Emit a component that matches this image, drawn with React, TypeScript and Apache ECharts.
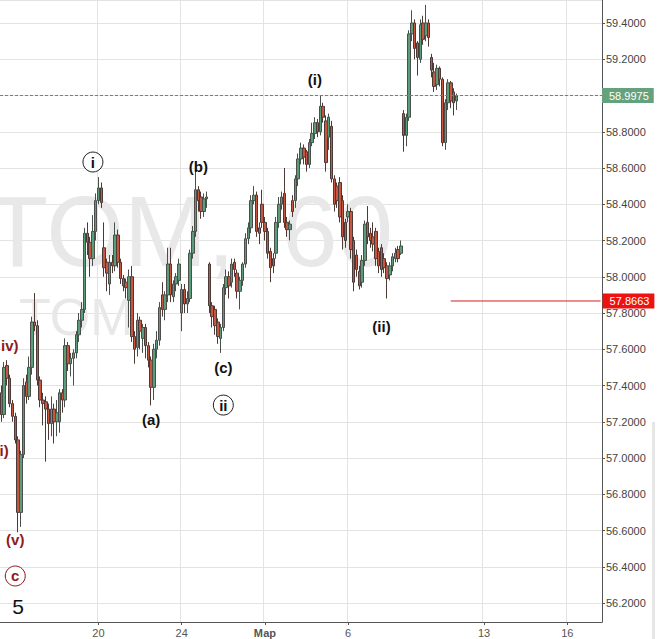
import React, { useEffect, useRef } from 'react';
import * as echarts from 'echarts';

// ---- slots / axis ----
const SLOT_COUNT = 217;
const tickSlots = [35, 65, 95, 125, 174, 204];
const tickLabels = ['20', '24', 'Мар', '6', '13', '16'];
const tickBold = [false, false, true, false, false, false];

// ---- hourly OHLC ----
const opens = [
  57.36, 57.24, 57.51, 57.44, 57.30, 57.23, 57.10, 56.70, 57.02, 57.42,
  57.34, 57.50, 57.75, 57.73, 57.43, 57.32, 57.31, 57.27, 57.19, 57.27,
  57.20, 57.20, 57.36, 57.32, 57.62, 57.52, 57.55, 57.58, 57.68, 57.76,
  57.82, 58.24, 58.19, 58.10, 58.25, 58.42, 58.49, 58.16, 58.08, 57.96,
  58.08, 58.06, 58.23, 58.08, 57.99, 57.97, 57.87, 58.00, 57.67, 57.61,
  57.76, 57.66, 57.72, 57.62, 57.54, 57.39, 57.60, 57.65, 57.90, 57.82,
  57.90, 58.07, 57.89, 57.96, 57.98, 57.80, 57.93, 57.85, 57.88, 58.13,
  58.25, 58.48, 58.44, 58.36, 58.43, 58.07, 57.84, 57.82, 57.75, 57.66,
  57.72, 57.94, 58.00, 57.97, 58.08, 58.02, 57.92, 57.98, 58.07, 58.21,
  58.27, 58.42, 58.45, 58.27, 58.40, 58.30, 58.25, 58.14, 58.10, 58.13,
  58.30, 58.40, 58.46, 58.30, 58.26, 58.42, 58.42, 58.54, 58.65, 58.71,
  58.69, 58.62, 58.74, 58.79, 58.85, 58.80, 58.94, 58.86, 58.77, 58.83,
  58.54, 58.50, 58.52, 58.42, 58.30, 58.33, 58.36, 58.20, 58.12, 58.03,
  57.97, 58.09, 58.30, 58.24, 58.22, 58.25, 58.14, 58.16, 58.10, 58.06,
  58.01, 58.06, 58.10, 58.15, 58.13, 58.90, 58.78, 58.88, 59.34, 59.40,
  59.29, 59.20, 59.40, 59.33, 59.40, 59.21, 59.13, 59.06, 59.15, 59.09,
  58.74, 58.96, 59.07, 59.02, 58.97,
];
const closes = [
  57.24, 57.50, 57.44, 57.30, 57.23, 57.10, 56.70, 57.02, 57.40, 57.34,
  57.50, 57.75, 57.73, 57.43, 57.32, 57.30, 57.27, 57.19, 57.27, 57.20,
  57.25, 57.36, 57.32, 57.62, 57.52, 57.55, 57.58, 57.68, 57.76, 57.82,
  58.24, 58.19, 58.10, 58.25, 58.42, 58.49, 58.41, 58.05, 58.02, 58.08,
  58.06, 58.23, 58.08, 57.99, 57.95, 57.94, 58.00, 57.67, 57.60, 57.76,
  57.70, 57.72, 57.62, 57.54, 57.39, 57.60, 57.65, 57.83, 57.82, 57.90,
  58.07, 57.90, 57.96, 58.00, 58.07, 57.93, 57.85, 57.88, 58.13, 58.25,
  58.48, 58.42, 58.36, 58.43, 58.44, 57.84, 57.78, 57.73, 57.67, 57.72,
  57.94, 58.00, 57.95, 58.07, 58.04, 57.92, 57.98, 58.07, 58.21, 58.27,
  58.42, 58.45, 58.25, 58.24, 58.30, 58.25, 58.13, 58.05, 58.06, 58.30,
  58.40, 58.44, 58.30, 58.26, 58.29, 58.36, 58.54, 58.65, 58.71, 58.66,
  58.62, 58.74, 58.79, 58.85, 58.80, 58.94, 58.88, 58.63, 58.88, 58.54,
  58.40, 58.42, 58.33, 58.22, 58.20, 58.36, 58.15, 57.97, 58.04, 57.95,
  58.09, 58.29, 58.22, 58.20, 58.18, 58.10, 58.06, 58.04, 58.05, 57.99,
  58.06, 58.11, 58.13, 58.10, 58.17, 58.78, 58.88, 59.34, 59.40, 59.26,
  59.21, 59.39, 59.31, 59.40, 59.32, 59.14, 59.05, 59.15, 59.09, 58.74,
  58.96, 59.07, 58.97, 58.96, 58.9975,
];
const lows = [
  57.20, 57.22, 57.40, 57.28, 57.20, 57.08, 56.59, 56.62, 57.00, 57.30,
  57.32, 57.46, 57.70, 57.40, 57.28, 57.18, 56.98, 57.10, 57.12, 57.08,
  57.12, 57.14, 57.25, 57.28, 57.48, 57.45, 57.40, 57.55, 57.64, 57.72,
  57.80, 58.12, 58.00, 58.06, 58.20, 58.40, 58.38, 58.00, 57.92, 57.90,
  58.02, 58.03, 58.05, 57.96, 57.92, 57.88, 57.72, 57.64, 57.52, 57.56,
  57.60, 57.58, 57.55, 57.50, 57.29, 57.32, 57.55, 57.62, 57.78, 57.76,
  57.86, 57.86, 57.86, 57.92, 57.95, 57.70, 57.80, 57.80, 57.86, 58.10,
  58.22, 58.36, 58.32, 58.33, 58.38, 57.80, 57.72, 57.68, 57.63, 57.58,
  57.70, 57.90, 57.88, 57.94, 58.00, 57.88, 57.82, 57.95, 58.05, 58.18,
  58.24, 58.40, 58.22, 58.18, 58.27, 58.20, 58.10, 57.97, 58.02, 58.10,
  58.27, 58.37, 58.27, 58.22, 58.20, 58.33, 58.38, 58.50, 58.62, 58.62,
  58.58, 58.60, 58.72, 58.76, 58.77, 58.78, 58.85, 58.58, 58.70, 58.52,
  58.36, 58.38, 58.30, 58.15, 58.16, 58.30, 58.10, 57.92, 58.00, 57.93,
  57.94, 58.06, 58.18, 58.16, 58.14, 58.06, 58.02, 58.00, 58.02, 57.88,
  57.98, 58.03, 58.08, 58.08, 58.12, 58.69, 58.72, 58.86, 59.30, 59.20,
  59.11, 59.18, 59.28, 59.30, 59.27, 59.10, 59.02, 59.03, 59.05, 58.72,
  58.70, 58.92, 58.93, 58.89, 58.92,
];
const highs = [
  57.40, 57.53, 57.54, 57.46, 57.32, 57.25, 57.12, 57.04, 57.44, 57.46,
  57.56, 57.78, 57.91, 57.76, 57.45, 57.36, 57.34, 57.30, 57.34, 57.30,
  57.32, 57.38, 57.38, 57.66, 57.64, 57.58, 57.60, 57.70, 57.80, 57.86,
  58.27, 58.30, 58.22, 58.34, 58.46, 58.55, 58.52, 58.30, 58.10, 58.12,
  58.12, 58.30, 58.26, 58.10, 58.01, 57.99, 58.04, 58.06, 57.70, 57.80,
  57.78, 57.74, 57.74, 57.64, 57.56, 57.63, 57.70, 57.86, 57.97, 57.92,
  58.16, 58.16, 57.98, 58.02, 58.10, 57.96, 57.96, 57.92, 58.15, 58.28,
  58.61, 58.50, 58.47, 58.46, 58.47, 58.08, 57.86, 57.84, 57.77, 57.74,
  57.96, 58.04, 58.03, 58.10, 58.10, 58.04, 58.00, 58.08, 58.24, 58.30,
  58.45, 58.50, 58.47, 58.30, 58.48, 58.33, 58.27, 58.16, 58.13, 58.33,
  58.44, 58.47, 58.60, 58.33, 58.31, 58.45, 58.56, 58.68, 58.74, 58.73,
  58.70, 58.76, 58.85, 58.88, 58.87, 59.00, 58.96, 58.89, 58.90, 58.86,
  58.56, 58.52, 58.55, 58.45, 58.32, 58.40, 58.38, 58.22, 58.15, 58.06,
  58.12, 58.31, 58.39, 58.27, 58.30, 58.27, 58.16, 58.18, 58.13, 58.08,
  58.08, 58.13, 58.16, 58.17, 58.20, 58.92, 58.90, 59.36, 59.47, 59.42,
  59.30, 59.42, 59.44, 59.50, 59.42, 59.23, 59.18, 59.17, 59.16, 59.10,
  58.98, 59.09, 59.08, 59.04, 59.01,
];

// ---- price levels ----
const lastPrice = 58.9975;
const levelPrice = 57.8663;
const levelStartSlot = 161.7;
// axis label hidden behind the last-price tag in the reference
const hiddenAxisLabels = [59.0];

// ---- wave annotations (anchored in slot / price) ----
const annTexts = ['iv)', 'i)', '(v)', 'c', '5', 'i', '(b)', '(a)', '(c)', 'ii', '(i)', '(ii)'];
const annSlots = [2.74, 1.12, 5.27, 5.09, 5.99, 33.4, 70.5, 54.3, 79.9, 79.9, 113.1, 136.5];
const annPrices = [57.618, 57.039, 56.548, 56.349, 56.183, 58.633, 58.606, 57.21, 57.502, 57.292, 59.086, 57.723];
const annCircled = [false, false, false, true, false, true, false, false, false, true, false, false];
const annRed = [true, true, true, true, false, false, false, false, false, false, false, false];

const FONT = '"Liberation Sans", Arial, sans-serif';
const LEVEL_RED = '#d81e1e';

export default function App() {
  const ref = useRef<HTMLDivElement>(null);
  useEffect(() => {
    const chart = echarts.init(ref.current!, null, { renderer: 'svg' });
    const categories = Array.from({ length: SLOT_COUNT }, (_, i) => 's' + i);
    const data = opens.map((o, i) => [o, closes[i], lows[i], highs[i]]);
    const showTick = (i: number) => tickSlots.indexOf(i) >= 0;
    const isStep = (v: number) => Math.abs(v / 0.2 - Math.round(v / 0.2)) < 1e-6;
    const isHidden = (v: number) => hiddenAxisLabels.some((h) => Math.abs(h - v) < 1e-6);

    chart.setOption({
      animation: false,
      textStyle: { fontFamily: FONT },
      grid: { left: 0, right: 56, top: 0, bottom: 17, containLabel: false },
      xAxis: {
        type: 'category',
        data: categories,
        boundaryGap: true,
        axisLine: { lineStyle: { color: '#555', width: 1 } },
        axisTick: { show: true, interval: (i: number) => showTick(i), alignWithLabel: true, length: 3, lineStyle: { color: '#555' } },
        axisLabel: {
          interval: (i: number) => showTick(i),
          color: '#555',
          fontSize: 11,
          fontFamily: FONT,
          margin: 5,
          formatter: (v: string) => {
            const k = tickSlots.indexOf(Number(v.slice(1)));
            if (k < 0) return '';
            return tickBold[k] ? '{b|' + tickLabels[k] + '}' : tickLabels[k];
          },
          rich: { b: { fontWeight: 'bold', color: '#555', fontSize: 11, fontFamily: FONT } },
        },
        splitLine: { show: true, interval: (i: number) => showTick(i), lineStyle: { color: '#e3e3e3', width: 1 } },
      },
      yAxis: {
        type: 'value',
        position: 'right',
        min: 56.0952,
        max: 59.5269,
        splitNumber: 17,
        minInterval: 0.2,
        maxInterval: 0.2,
        axisLine: { show: true, lineStyle: { color: '#555', width: 1 } },
        axisTick: { show: true, length: 3, lineStyle: { color: '#555' } },
        axisLabel: {
          color: '#444',
          fontSize: 11,
          fontFamily: FONT,
          margin: 4,
          showMinLabel: false,
          showMaxLabel: false,
          formatter: (v: number) => (isStep(v) && !isHidden(v) ? v.toFixed(4) : ''),
        },
        splitLine: { show: true, lineStyle: { color: '#e3e3e3', width: 1 } },
      },
      series: [
        {
          type: 'candlestick',
          data,
          barWidth: 3,
          z: 3,
          itemStyle: {
            color: '#5a9e79',
            color0: '#c65640',
            borderColor: '#4a4f4c',
            borderColor0: '#4d3a36',
            borderWidth: 1,
          },
          markLine: {
            silent: true,
            symbol: ['none', 'none'],
            animation: false,
            data: [
              {
                yAxis: lastPrice,
                lineStyle: { color: '#5f8d7d', type: [3, 2], width: 1 },
                label: {
                  show: true,
                  position: 'end',
                  distance: 0,
                  formatter: lastPrice.toFixed(4),
                  color: '#fff',
                  fontSize: 11,
                  fontFamily: FONT,
                  backgroundColor: '#64a27d',
                  padding: [2, 5, 2, 7],
                },
              },
            ],
          },
        },
        {
          type: 'line',
          name: 'level',
          data: [
            [levelStartSlot, levelPrice],
            [SLOT_COUNT - 1, levelPrice],
          ],
          color: LEVEL_RED,
          z: 4,
          symbol: 'none',
          showSymbol: false,
          silent: true,
          lineStyle: { color: LEVEL_RED, width: 1, type: 'solid' },
          itemStyle: { color: LEVEL_RED },
          endLabel: {
            show: true,
            distance: 2,
            formatter: levelPrice.toFixed(4),
            color: '#fff',
            fontSize: 11,
            fontFamily: FONT,
            backgroundColor: '#ee1111',
            padding: [2, 5, 2, 7],
          },
        },
      ],
    });

    const graphics: any[] = [
      {
        type: 'text',
        x: -13,
        y: 231,
        z: 1,
        silent: true,
        style: { text: 'TOM,', font: '100px ' + FONT, fill: '#e8e8e8', verticalAlign: 'middle' },
      },
      {
        type: 'text',
        x: 282,
        y: 231,
        z: 1,
        silent: true,
        style: { text: '60', font: '100px ' + FONT, fill: '#e8e8e8', verticalAlign: 'middle' },
      },
      {
        type: 'text',
        x: 19,
        y: 317,
        z: 1,
        silent: true,
        style: { text: 'TOM', font: '52px ' + FONT, fill: '#e8e8e8', verticalAlign: 'middle' },
      },
      {
        type: 'rect',
        z: 1,
        silent: true,
        shape: { x: 652, y: 422, width: 3, height: 217 },
        style: { fill: '#e6e6e6' },
      },
    ];
    annTexts.forEach((t, i) => {
      const p = chart.convertToPixel({ gridIndex: 0 }, [annSlots[i], annPrices[i]]) as number[];
      const col = annRed[i] ? '#8e1b1b' : '#111';
      if (annCircled[i]) {
        graphics.push({
          type: 'circle',
          z: 10,
          silent: true,
          shape: { cx: p[0], cy: p[1], r: 10 },
          style: { fill: '#fff', stroke: annRed[i] ? '#8e1b1b' : '#222', lineWidth: 1 },
        });
      }
      const isBig = t === '5';
      graphics.push({
        type: 'text',
        x: p[0],
        y: p[1],
        z: 11,
        silent: true,
        style: {
          text: t,
          font: (isBig ? 'normal 21px ' : 'bold 15px ') + FONT,
          fill: col,
          align: 'center',
          verticalAlign: 'middle',
        },
      });
    });
    chart.setOption({ graphic: graphics });

    return () => chart.dispose();
  }, []);
  return (
    <div
      ref={ref}
      style={{ position: 'fixed', left: 0, top: 0, width: 658, height: 639, background: '#fff' }}
    />
  );
}
